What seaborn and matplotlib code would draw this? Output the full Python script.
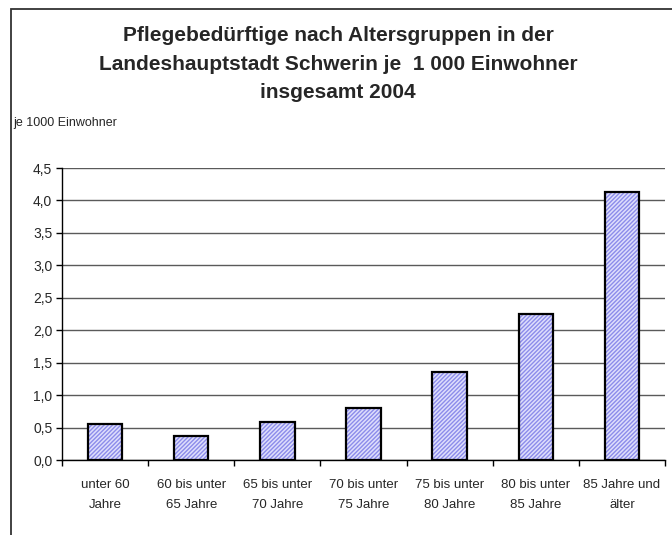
import numpy as np
import pandas as pd
import seaborn as sns
import matplotlib
matplotlib.use('Agg')
import matplotlib.pyplot as plt
from matplotlib.patches import Rectangle
from matplotlib.ticker import FuncFormatter, FixedLocator

# Daten: Pflegebeduerftige je 1000 Einwohner, Schwerin 2004
age_groups = ['unter 60\nJahre', '60 bis unter\n65 Jahre', '65 bis unter\n70 Jahre',
              '70 bis unter\n75 Jahre', '75 bis unter\n80 Jahre', '80 bis unter\n85 Jahre',
              '85 Jahre und\nälter']
per_1000 = [0.555, 0.37, 0.59, 0.805, 1.36, 2.25, 4.13]
y_ticks = [0.0, 0.5, 1.0, 1.5, 2.0, 2.5, 3.0, 3.5, 4.0, 4.5]

df = pd.DataFrame({'Altersgruppe': age_groups, 'Wert': per_1000})

sns.set_style('white')
plt.rcParams['font.family'] = ['Liberation Sans', 'DejaVu Sans']

fig = plt.figure(figsize=(6.72, 5.35), dpi=100)
ax = fig.add_axes([62 / 672, 1 - 460 / 535, (665 - 62) / 672, (460 - 168) / 535])

# hatched fill first, then black outlines on top
sns.barplot(data=df, x='Altersgruppe', y='Wert', ax=ax, width=0.4,
            color='#dedefc', edgecolor='#8c8cea', linewidth=0, hatch='////////',
            saturation=1, zorder=2)
sns.barplot(data=df, x='Altersgruppe', y='Wert', ax=ax, width=0.4,
            fill=False, edgecolor='black', linewidth=1.6, zorder=3)

ax.set_ylim(0, 4.5)
ax.set_xlim(-0.5, len(age_groups) - 0.5)
ax.yaxis.set_major_locator(FixedLocator(y_ticks))
ax.yaxis.set_major_formatter(FuncFormatter(lambda v, p: f'{v:.1f}'.replace('.', ',')))
ax.grid(axis='y', color='#5a5a5a', linewidth=1.0, zorder=0)
ax.set_axisbelow(True)

# ticks between categories, labels centered under bars
ax.set_xticks(np.arange(-0.5, len(age_groups), 1.0))
ax.set_xticklabels([])
ax.set_xticks(np.arange(len(age_groups)), minor=True)
ax.set_xticklabels(age_groups, minor=True, fontsize=9.5, linespacing=1.8)
ax.tick_params(axis='x', which='major', direction='out', length=4, width=1, color='black', bottom=True)
ax.tick_params(axis='x', which='minor', length=0, pad=14)
ax.tick_params(axis='y', direction='out', length=4, width=1, color='black', left=True, labelsize=10, pad=3)

for s in ['top', 'right']:
    ax.spines[s].set_visible(False)
for s in ['left', 'bottom']:
    ax.spines[s].set_color('black')
    ax.spines[s].set_linewidth(1.0)
ax.set_xlabel('')
ax.set_ylabel('')

fig.text(338 / 672, 1 - 64 / 535,
         'Pflegebedürftige nach Altersgruppen in der\n'
         'Landeshauptstadt Schwerin je  1 000 Einwohner\n'
         'insgesamt 2004',
         ha='center', va='center', fontsize=15, fontweight='bold', linespacing=1.65)
fig.text(13 / 672, 1 - 123 / 535, 'je 1000 Einwohner', ha='left', va='center', fontsize=9)

# chart frame
fig.add_artist(Rectangle((11 / 672, -0.05), 1.0, 1 - 9 / 535 + 0.05, transform=fig.transFigure,
                         fill=False, edgecolor='#333333', linewidth=1.3))

fig.savefig('out.png', dpi=100)
